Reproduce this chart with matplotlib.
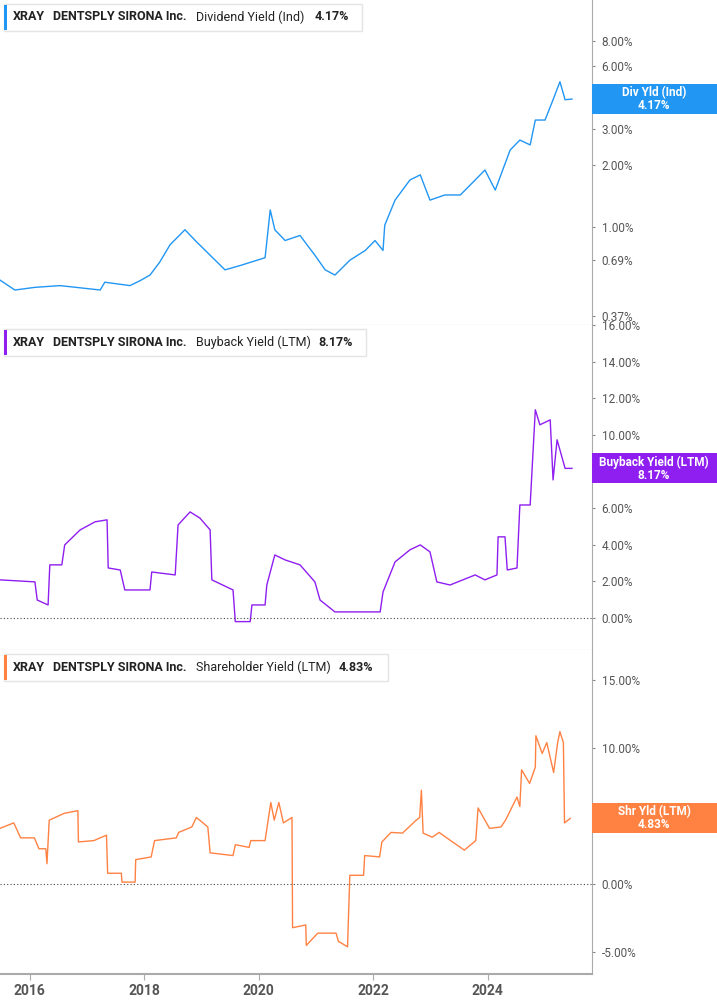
import numpy as np
import matplotlib
matplotlib.use('Agg')
import matplotlib.pyplot as plt
from matplotlib.ticker import FixedLocator, NullLocator

plt.rcParams['font.family'] = 'Roboto'

# --------- data (decimal years, percent)
div_years = [2015.48, 2015.74, 2016.09, 2016.53, 2017.23, 2017.31, 2017.75, 2017.93, 2018.10, 2018.27,
             2018.45, 2018.71, 2018.89, 2019.15, 2019.41, 2019.67, 2020.11, 2020.20, 2020.28, 2020.46,
             2020.72, 2020.98, 2021.16, 2021.33, 2021.59, 2021.86, 2022.03, 2022.17, 2022.20, 2022.38,
             2022.64, 2022.82, 2022.99, 2023.25, 2023.52, 2023.78, 2023.95, 2024.13, 2024.39, 2024.56,
             2024.74, 2024.83, 2025.00, 2025.14, 2025.26, 2025.35, 2025.47]
div_vals = [0.553, 0.495, 0.51, 0.52, 0.495, 0.54, 0.52, 0.55, 0.585, 0.676,
            0.82, 0.97, 0.86, 0.73, 0.62, 0.65, 0.71, 1.21, 0.97, 0.86,
            0.91, 0.73, 0.62, 0.585, 0.69, 0.77, 0.86, 0.77, 1.02, 1.35,
            1.69, 1.79, 1.35, 1.43, 1.43, 1.69, 1.89, 1.51, 2.36, 2.64,
            2.5, 3.3, 3.3, 4.14, 5.06, 4.14, 4.17]

bb_years = [2015.48, 2016.09, 2016.13, 2016.32, 2016.35, 2016.56, 2016.61, 2016.88, 2017.14, 2017.35,
            2017.37, 2017.58, 2017.66, 2018.10, 2018.13, 2018.54, 2018.59, 2018.80, 2018.97, 2019.15,
            2019.18, 2019.55, 2019.59, 2019.85, 2019.88, 2020.11, 2020.14, 2020.28, 2020.46, 2020.72,
            2020.98, 2021.07, 2021.33, 2022.12, 2022.17, 2022.38, 2022.64, 2022.82, 2022.99, 2023.11,
            2023.34, 2023.78, 2023.95, 2024.16, 2024.18, 2024.30, 2024.34, 2024.51, 2024.56, 2024.74,
            2024.83, 2024.91, 2025.09, 2025.14, 2025.21, 2025.35, 2025.47]
bb_vals = [2.08, 1.97, 0.98, 0.71, 2.9, 2.9, 3.99, 4.81, 5.25, 5.36,
           2.73, 2.62, 1.53, 1.53, 2.51, 2.35, 5.08, 5.79, 5.46, 4.81,
           2.08, 1.53, -0.2, -0.2, 0.71, 0.71, 1.8, 3.44, 3.17, 2.9,
           1.97, 0.98, 0.33, 0.33, 1.42, 3.06, 3.72, 3.99, 3.61, 1.97,
           1.8, 2.35, 2.08, 2.35, 4.43, 4.43, 2.62, 2.73, 6.17, 6.17,
           11.37, 10.55, 10.82, 7.54, 9.73, 8.17, 8.17]

shr_years = [2015.48, 2015.72, 2015.84, 2016.08, 2016.16, 2016.28, 2016.30, 2016.34, 2016.60, 2016.84,
             2016.85, 2017.12, 2017.34, 2017.36, 2017.60, 2017.61, 2017.84, 2017.85, 2018.12, 2018.18,
             2018.56, 2018.60, 2018.83, 2018.91, 2019.11, 2019.15, 2019.55, 2019.59, 2019.83, 2019.86,
             2020.11, 2020.21, 2020.27, 2020.35, 2020.43, 2020.58, 2020.59, 2020.82, 2020.83, 2021.03,
             2021.35, 2021.39, 2021.55, 2021.59, 2021.83, 2021.85, 2022.11, 2022.15, 2022.31, 2022.51,
             2022.75, 2022.81, 2022.84, 2022.87, 2023.03, 2023.15, 2023.35, 2023.59, 2023.79, 2023.83,
             2024.03, 2024.23, 2024.31, 2024.51, 2024.56, 2024.59, 2024.73, 2024.83, 2024.84, 2024.95,
             2025.03, 2025.15, 2025.22, 2025.26, 2025.32, 2025.34, 2025.44]
shr_vals = [4.1, 4.5, 3.4, 3.4, 2.6, 2.6, 1.5, 4.7, 5.2, 5.4,
            3.1, 3.2, 3.6, 0.8, 0.8, 0.15, 0.15, 1.8, 2.0, 3.2,
            3.4, 3.8, 4.2, 4.9, 4.2, 2.3, 2.1, 2.9, 2.7, 3.2,
            3.2, 6.0, 4.7, 6.0, 4.5, 4.9, -3.2, -3.0, -4.5, -3.6,
            -3.6, -4.2, -4.6, 0.65, 0.65, 2.1, 2.0, 3.1, 3.8, 3.75,
            4.7, 4.9, 6.9, 3.75, 3.45, 3.8, 3.2, 2.5, 3.2, 5.6,
            4.1, 4.2, 4.7, 6.4, 5.7, 8.4, 7.4, 8.6, 10.9, 9.6,
            10.4, 8.2, 10.4, 11.2, 10.4, 4.5, 4.83]

xtick_years = [2016, 2018, 2020, 2022, 2024]

W, H = 717, 1005
panels = [
    dict(years=div_years, vals=div_vals, color='#2196f3', metric='Dividend Yield (Ind)', last='4.17%',
         tag='Div Yld (Ind)', ticks=[0.37, 0.69, 1, 2, 3, 6, 8], ylim=(0.335, 12.6), log=True,
         top=0, bot=325, boxw=358, lastx=315),
    dict(years=bb_years, vals=bb_vals, color='#8f1ef0', metric='Buyback Yield (LTM)', last='8.17%',
         tag='Buyback Yield (LTM)', ticks=[0, 2, 4, 6, 8, 10, 12, 14, 16], ylim=(-1.75, 16), log=False,
         top=325, bot=650, boxw=362, lastx=318),
    dict(years=shr_years, vals=shr_vals, color='#ff8243', metric='Shareholder Yield (LTM)', last='4.83%',
         tag='Shr Yld (LTM)', ticks=[-5, 0, 5, 10, 15], ylim=(-6.6, 17.2), log=False,
         top=650, bot=974, boxw=384, lastx=339),
]

fig = plt.figure(figsize=(W / 100, H / 100), dpi=100)
axw = 592

for i, p in enumerate(panels):
    ax = fig.add_axes([0, 1 - p['bot'] / H, axw / W, (p['bot'] - p['top']) / H])
    ax.plot(p['years'], p['vals'], color=p['color'], linewidth=1)
    if p['log']:
        ax.set_yscale('log')
        ax.yaxis.set_minor_locator(NullLocator())
    else:
        ax.axhline(0, color='#444444', linestyle=(0, (1, 2)), linewidth=0.8)
    ax.set_ylim(*p['ylim'])
    ax.set_xlim(2015.48, 2025.82)
    ax.yaxis.tick_right()
    ax.yaxis.set_major_locator(FixedLocator(p['ticks']))
    ax.set_yticklabels([f'{t:.2f}%' for t in p['ticks']])
    ax.tick_params(axis='y', length=2, color='#888888', labelcolor='#555555', labelsize=8.5, pad=5)
    for s in ['left', 'top']:
        ax.spines[s].set_visible(False)
    ax.spines['right'].set_color('#aaaaaa')
    ax.spines['bottom'].set_color('#bbbbbb')
    if i < 2:
        ax.set_xticks([])
    else:
        ax.set_xticks(xtick_years)
        ax.set_xticklabels([str(y) for y in xtick_years], fontweight='bold')
        ax.tick_params(axis='x', length=4, color='#aaaaaa', labelcolor='#555555', labelsize=10, pad=3)
        ax.spines['bottom'].set_color('#aaaaaa')
        ax.spines['bottom'].set_linewidth(1.5)

    # legend box top-left (figure pixel coords)
    y0 = 1 - (p['top'] + 31) / H
    fig.patches.append(plt.Rectangle((4 / W, y0), p['boxw'] / W, 27 / H, transform=fig.transFigure,
                                     fc='white', ec='#e4e4e4', lw=1, zorder=5))
    fig.patches.append(plt.Rectangle((4 / W, y0 + 1 / H), 2.5 / W, 25 / H, transform=fig.transFigure,
                                     fc=p['color'], ec='none', zorder=6))
    ty = 1 - (p['top'] + 17) / H
    fig.text(13 / W, ty, 'XRAY', fontsize=9, fontweight='bold', va='center', color='#222222', zorder=7)
    fig.text(53 / W, ty, 'DENTSPLY SIRONA Inc.', fontsize=9, fontweight='bold', va='center',
             color='#222222', zorder=7)
    fig.text(196 / W, ty, p['metric'], fontsize=9, va='center', color='#222222', zorder=7)
    fig.text(p['lastx'] / W, ty, p['last'], fontsize=9, fontweight='bold', va='center',
             color='#222222', zorder=7)

    # value tag on right axis
    yv = p['vals'][-1]
    yfig = fig.transFigure.inverted().transform(ax.transData.transform((2025, yv)))[1]
    fig.patches.append(plt.Rectangle((axw / W, yfig - 15 / H), (W - axw) / W, 30 / H,
                                     transform=fig.transFigure, fc=p['color'], ec='none', zorder=5))
    fig.text((axw + 62) / W, yfig, f'{p["tag"]}\n{p["last"]}', ha='center', va='center', fontsize=8.5,
             fontweight='bold', color='white', linespacing=1.0, zorder=6)

fig.savefig('out.png', dpi=100)
